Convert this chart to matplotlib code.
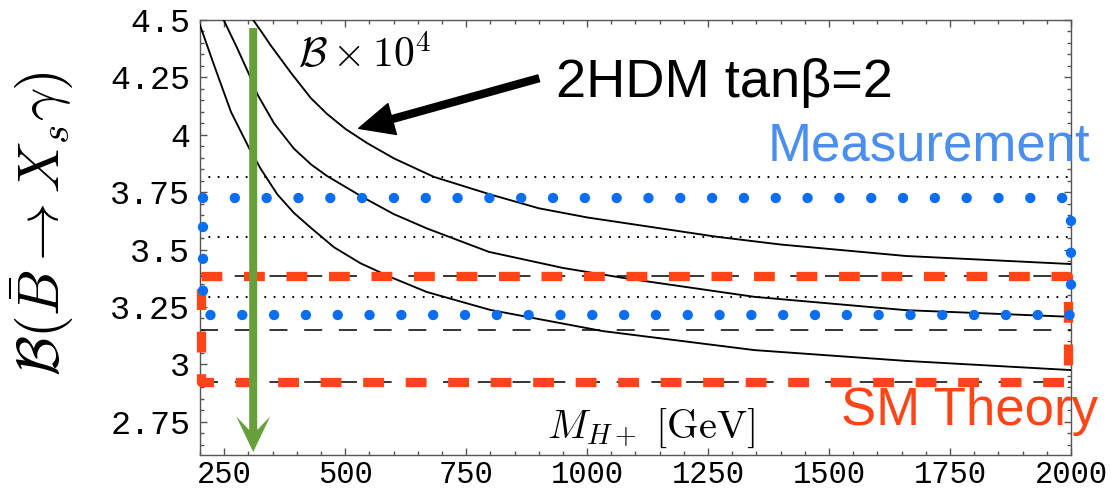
import matplotlib
matplotlib.use("Agg")
import matplotlib.pyplot as plt
from matplotlib.patches import FancyArrow
from matplotlib.ticker import MultipleLocator

plt.rcParams["mathtext.fontset"] = "cm"
plt.rcParams["lines.scale_dashes"] = False

# --- 2HDM type-II prediction for B(B -> Xs gamma) x 10^4 vs charged Higgs mass ---
mass_upper = [310, 330, 346, 367, 388, 429, 463, 501, 546, 601, 683, 800, 900, 1000,
              1267, 1400, 1659, 2000]
br_upper = [4.50, 4.44, 4.39, 4.33, 4.27, 4.16, 4.09, 4.025, 3.963, 3.897, 3.817, 3.740,
            3.680, 3.640, 3.556, 3.522, 3.472, 3.437]

mass_central = [249, 277, 300, 319, 353, 394, 430, 463, 539, 600, 669, 797, 950, 1079,
                1346, 1659, 2000]
br_central = [4.50, 4.377, 4.27, 4.175, 4.05, 3.94, 3.87, 3.82, 3.725, 3.655, 3.592,
              3.49, 3.42, 3.375, 3.294, 3.236, 3.207]

mass_lower = [200, 229, 264, 302, 326, 360, 394, 429, 477, 532, 594, 669, 800, 1032,
              1346, 1659, 2000]
br_lower = [4.478, 4.304, 4.10, 3.94, 3.85, 3.74, 3.66, 3.595, 3.51, 3.44, 3.38, 3.315,
            3.237, 3.145, 3.062, 3.015, 2.975]

# Experimental world average: central value and +-1 sigma (dotted), plotted band (dots)
meas_lines = [3.295, 3.555, 3.815]
meas_band = [3.215, 3.725]

# SM NNLO prediction: central value and +-1 sigma
sm_lines = [2.925, 3.15, 3.385]

# Lower bound on M_H+
mh_bound = 310

x_range = [200, 2000]
xticks = [250, 500, 750, 1000, 1250, 1500, 1750, 2000]
xtick_labels = ["250", "500", "750", "1000", "1250", "1500", "1750", "2000"]
yticks = [2.75, 3.0, 3.25, 3.5, 3.75, 4.0, 4.25, 4.5]
ytick_labels = ["2.75", "3", "3.25", "3.5", "3.75", "4", "4.25", "4.5"]

GREEN = "#67A03A"
BLUE_DOT = "#0A6EF5"
BLUE_TXT = "#4A8EF0"
ORANGE = "#FF4517"
SPINE = "#555555"

fig = plt.figure(figsize=(11.11, 4.94), dpi=100)
ax = fig.add_axes([0.180, 0.0789, 0.784, 0.8806])
ax.set_xlim(x_range)
ax.set_ylim(2.605, 4.5)

# reference lines
for y in meas_lines:
    ax.plot(x_range, [y, y], color="black", lw=1.6, dashes=(0.01, 6.7),
            dash_capstyle="round", zorder=2)
for y in sm_lines:
    ax.plot(x_range, [y, y], color="black", lw=1.1, dashes=(13, 12), zorder=2)

# 2HDM curves
for m, b in [(mass_upper, br_upper), (mass_central, br_central), (mass_lower, br_lower)]:
    ax.plot(m, b, color="black", lw=1.35, zorder=3, solid_joinstyle="round")

# SM theory box (orange dashed)
sm_lo, sm_hi = sm_lines[0], sm_lines[-1]
ax.plot([203, 1993, 1993, 203, 203], [sm_hi, sm_hi, sm_lo, sm_lo, sm_hi],
        color=ORANGE, lw=6.7, dashes=(15, 15.6), dash_capstyle="butt",
        clip_on=False, zorder=4)

# Measurement box (blue dots)
m_lo, m_hi = meas_band
ax.plot([207, 2000, 2000, 207, 207], [m_hi, m_hi, m_lo, m_lo, m_hi],
        color=BLUE_DOT, lw=7.5, dashes=(0.01, 22.9), dash_capstyle="round",
        clip_on=False, zorder=5)

# green arrow at the mass bound
ax.add_patch(FancyArrow(mh_bound, 4.465, 0, 2.618 - 4.465, width=16.5, head_width=70,
                        head_length=0.155, length_includes_head=True, overhang=0.38,
                        color=GREEN, lw=0, zorder=6, clip_on=False))

# annotation arrow pointing to the curves
ax.annotate("", xy=(528, 4.028), xytext=(900, 4.246),
            arrowprops=dict(facecolor="black", edgecolor="black", width=5,
                            headwidth=23, headlength=25, shrink=0), zorder=7)

ax.text(935, 4.164, "2HDM tanβ=2", fontsize=39, family="Liberation Sans",
        ha="left", va="baseline", zorder=7)
ax.text(1374, 3.890, "Measurement", fontsize=38, family="Liberation Sans",
        color=BLUE_TXT, ha="left", va="baseline", zorder=7)
ax.text(1525, 2.735, "SM Theory", fontsize=38, family="Liberation Sans",
        color=ORANGE, ha="left", va="baseline", zorder=7)
ax.text(403, 4.291, r"$\mathcal{B}\times 10^4$", fontsize=30,
        ha="left", va="baseline", zorder=7)
ax.text(918, 2.679, r"$M_{H+}\ [\mathrm{GeV}]$", fontsize=29,
        ha="left", va="baseline", zorder=7)

fig.text(42 / 1111, 1 - 223.5 / 494, r"$\mathcal{B}(\bar{B}\to X_s\gamma)$",
         rotation=90, fontsize=42, ha="center", va="center")

# axes styling
ax.set_xticks(xticks)
ax.set_xticklabels(xtick_labels, family="Liberation Mono", fontsize=22)
ax.set_yticks(yticks)
ax.set_yticklabels(ytick_labels, family="Liberation Mono", fontsize=24)
ax.xaxis.set_minor_locator(MultipleLocator(50))
ax.yaxis.set_minor_locator(MultipleLocator(0.05))
ax.tick_params(which="both", direction="in", top=True, right=True, color=SPINE, width=1)
ax.tick_params(which="major", length=5)
ax.tick_params(which="minor", length=3)
ax.tick_params(axis="x", pad=3.5)
ax.tick_params(axis="y", pad=7)
for s in ax.spines.values():
    s.set_color(SPINE)
    s.set_linewidth(1.0)

fig.savefig("out.png", dpi=100)
